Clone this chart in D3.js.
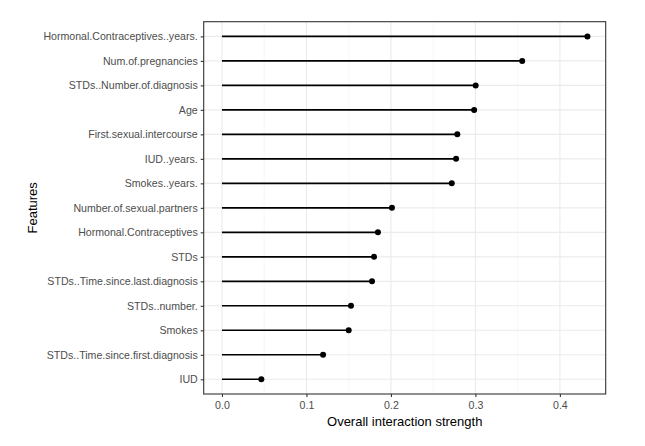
<!DOCTYPE html>
<html>
<head>
<meta charset="utf-8">
<script src="https://cdn.jsdelivr.net/npm/d3@7"></script>
<style>
  body { margin: 0; background: #fff; }
  text { font-family: "Liberation Sans", Arial, sans-serif; }
</style>
</head>
<body>
<svg id="chart" width="645" height="446"></svg>
<script>
// données (du haut vers le bas)
const features = [
  "Hormonal.Contraceptives..years.",
  "Num.of.pregnancies",
  "STDs..Number.of.diagnosis",
  "Age",
  "First.sexual.intercourse",
  "IUD..years.",
  "Smokes..years.",
  "Number.of.sexual.partners",
  "Hormonal.Contraceptives",
  "STDs",
  "STDs..Time.since.last.diagnosis",
  "STDs..number.",
  "Smokes",
  "STDs..Time.since.first.diagnosis",
  "IUD"
];
const strength = [0.4326, 0.3554, 0.3003, 0.2985, 0.2786, 0.2771, 0.2720, 0.2012, 0.1846, 0.1800, 0.1776, 0.1527, 0.1500, 0.1197, 0.0466];
const xTicks = [0, 0.1, 0.2, 0.3, 0.4];
const xMinor = [0.05, 0.15, 0.25, 0.35];

const svg = d3.select("#chart");
const panel = {left: 203.7, right: 605.7, top: 21.7, bottom: 394};

const maxV = d3.max(strength);
const x = d3.scaleLinear()
  .domain([-0.05 * maxV, 1.05 * maxV])
  .range([panel.left, panel.right]);

const y = d3.scalePoint()
  .domain(features)
  .range([panel.top, panel.bottom])
  .padding(0.6);

// fond du panneau
svg.append("rect")
  .attr("x", panel.left).attr("y", panel.top)
  .attr("width", panel.right - panel.left).attr("height", panel.bottom - panel.top)
  .attr("fill", "#fff");

// grille
svg.selectAll(".minor")
  .data(xMinor)
  .enter().append("line")
  .attr("x1", d => x(d)).attr("x2", d => x(d))
  .attr("y1", panel.top).attr("y2", panel.bottom)
  .attr("stroke", "#f2f2f2").attr("stroke-width", 0.6);

svg.selectAll(".gx")
  .data(xTicks)
  .enter().append("line")
  .attr("x1", d => x(d)).attr("x2", d => x(d))
  .attr("y1", panel.top).attr("y2", panel.bottom)
  .attr("stroke", "#ebebeb").attr("stroke-width", 1.1);

svg.selectAll(".gy")
  .data(features)
  .enter().append("line")
  .attr("x1", panel.left).attr("x2", panel.right)
  .attr("y1", d => y(d)).attr("y2", d => y(d))
  .attr("stroke", "#ebebeb").attr("stroke-width", 1.1);

// segments et points
svg.selectAll(".seg")
  .data(features)
  .enter().append("line")
  .attr("x1", x(0))
  .attr("x2", (d, i) => x(strength[i]))
  .attr("y1", d => y(d)).attr("y2", d => y(d))
  .attr("stroke", "#000").attr("stroke-width", 1.6);

svg.selectAll(".pt")
  .data(features)
  .enter().append("circle")
  .attr("cx", (d, i) => x(strength[i]))
  .attr("cy", d => y(d))
  .attr("r", 3)
  .attr("fill", "#000");

// bordure
svg.append("rect")
  .attr("x", panel.left).attr("y", panel.top)
  .attr("width", panel.right - panel.left).attr("height", panel.bottom - panel.top)
  .attr("fill", "none").attr("stroke", "#333333").attr("stroke-width", 1.1);

// axes
const xAxis = svg.append("g")
  .attr("transform", `translate(0,${panel.bottom})`)
  .call(d3.axisBottom(x).tickValues(xTicks).tickFormat(d3.format(".1f")).tickSize(3).tickPadding(4));

const yAxis = svg.append("g")
  .attr("transform", `translate(${panel.left},0)`)
  .call(d3.axisLeft(y).tickSize(3).tickPadding(3));

[xAxis, yAxis].forEach(ax => {
  ax.select(".domain").remove();
  ax.selectAll(".tick line").attr("stroke", "#333333").attr("stroke-width", 1.1);
  ax.selectAll(".tick text")
    .attr("fill", "#4d4d4d")
    .style("font-size", "10.6px")
    .style("font-family", "'Liberation Sans', Arial, sans-serif");
});

// titres des axes
svg.append("text")
  .attr("x", (panel.left + panel.right) / 2)
  .attr("y", 426)
  .attr("text-anchor", "middle")
  .style("font-size", "13px")
  .attr("fill", "#000")
  .text("Overall interaction strength");

svg.append("text")
  .attr("transform", `translate(37,${(panel.top + panel.bottom) / 2}) rotate(-90)`)
  .attr("text-anchor", "middle")
  .style("font-size", "13px")
  .attr("fill", "#000")
  .text("Features");
</script>
</body>
</html>
